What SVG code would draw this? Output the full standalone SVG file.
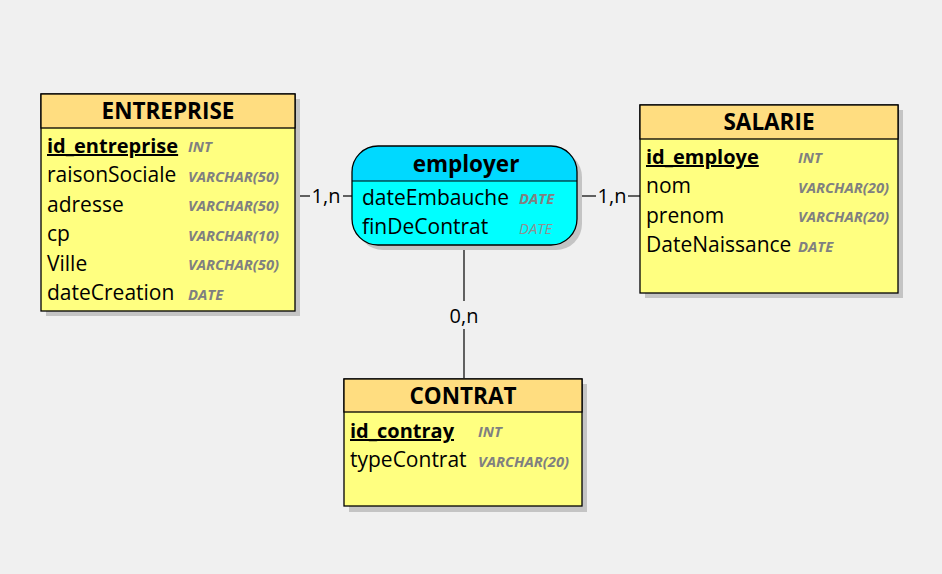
<svg xmlns="http://www.w3.org/2000/svg" width="942" height="574" viewBox="0 0 942 574">
<style>
.sh{fill:#c4c4c4}
.hd{fill:#ffdd80;stroke:#000;stroke-width:1.3}
.bd{fill:#ffff80;stroke:#000;stroke-width:1.3}
.ahd{fill:#00d9ff}
.abd{fill:#00ffff}
.ol{fill:none;stroke:#000;stroke-width:1.3}
.t{font-family:"Open Sans",sans-serif;font-weight:bold;font-size:22.5px;fill:#000;text-anchor:middle}
.f{font-family:"Open Sans",sans-serif;font-size:21px;fill:#000}
.k{font-weight:bold;font-size:20px;text-decoration:underline}
.ty{font-family:"Open Sans",sans-serif;font-size:14.8px;font-weight:bold;font-style:italic;fill:#808080}
.tl{font-family:"Open Sans",sans-serif;font-size:14.8px;font-style:italic;fill:#909090}
.c{font-family:"Open Sans",sans-serif;font-size:20px;fill:#000;text-anchor:middle}
.ln{stroke:#000;stroke-width:1.2;fill:none}
</style>
<rect width="942" height="574" fill="#f0f0f0"/>
<g id="connectors">
<line class="ln" x1="296" y1="196" x2="310" y2="196"/>
<line class="ln" x1="343" y1="196" x2="352" y2="196"/>
<text class="c" x="326" y="203">1,n</text>
<line class="ln" x1="577" y1="196" x2="596" y2="196"/>
<line class="ln" x1="628" y1="196" x2="640" y2="196"/>
<text class="c" x="612" y="203">1,n</text>
<line class="ln" x1="464" y1="245" x2="464" y2="301"/>
<line class="ln" x1="464" y1="329" x2="464" y2="378"/>
<text class="c" x="464" y="323">0,n</text>
</g>
<g id="entreprise">
<rect class="sh" x="46" y="99" width="254" height="217"/>
<rect class="bd" x="41" y="94" width="254" height="217"/>
<rect class="hd" x="41" y="94" width="254" height="34"/>
<text class="t" x="168" y="119">ENTREPRISE</text>
<text class="f k" x="47" y="153">id_entreprise</text>
<text class="ty" x="188" y="152">INT</text>
<text class="f" x="47" y="182">raisonSociale</text>
<text class="ty" x="188" y="182">VARCHAR(50)</text>
<text class="f" x="47" y="212">adresse</text>
<text class="ty" x="188" y="211">VARCHAR(50)</text>
<text class="f" x="47" y="241">cp</text>
<text class="ty" x="188" y="241">VARCHAR(10)</text>
<text class="f" x="47" y="271">Ville</text>
<text class="ty" x="188" y="270">VARCHAR(50)</text>
<text class="f" x="47" y="300">dateCreation</text>
<text class="ty" x="188" y="300">DATE</text>
</g>
<g id="employer">
<rect class="sh" x="357" y="151" width="225" height="99" rx="26"/>
<rect class="abd" x="352" y="146" width="225" height="99" rx="26"/>
<path class="ahd" d="M352 181 V172 A26 26 0 0 1 378 146 H551 A26 26 0 0 1 577 172 V181 Z"/>
<line class="ln" x1="352" y1="181" x2="577" y2="181"/>
<rect class="ol" x="352" y="146" width="225" height="99" rx="26"/>
<text class="t" x="466" y="172">employer</text>
<text class="f" x="362" y="205">dateEmbauche</text>
<text class="ty" x="519" y="204">DATE</text>
<text class="f" x="362" y="234">finDeContrat</text>
<text class="tl" x="519" y="234">DATE</text>
</g>
<g id="salarie">
<rect class="sh" x="645" y="110" width="258" height="188"/>
<rect class="bd" x="640" y="105" width="258" height="188"/>
<rect class="hd" x="640" y="105" width="258" height="34"/>
<text class="t" x="769" y="130">SALARIE</text>
<text class="f k" x="646" y="164">id_employe</text>
<text class="ty" x="798" y="163">INT</text>
<text class="f" x="646" y="193">nom</text>
<text class="ty" x="798" y="193">VARCHAR(20)</text>
<text class="f" x="646" y="223">prenom</text>
<text class="ty" x="798" y="222">VARCHAR(20)</text>
<text class="f" x="646" y="252">DateNaissance</text>
<text class="ty" x="798" y="252">DATE</text>
</g>
<g id="contrat">
<rect class="sh" x="349" y="384" width="238" height="128"/>
<rect class="bd" x="344" y="379" width="238" height="127"/>
<rect class="hd" x="344" y="379" width="238" height="33"/>
<text class="t" x="463" y="404">CONTRAT</text>
<text class="f k" x="350" y="438">id_contray</text>
<text class="ty" x="478" y="437">INT</text>
<text class="f" x="350" y="467">typeContrat</text>
<text class="ty" x="478" y="467">VARCHAR(20)</text>
</g>
</svg>
